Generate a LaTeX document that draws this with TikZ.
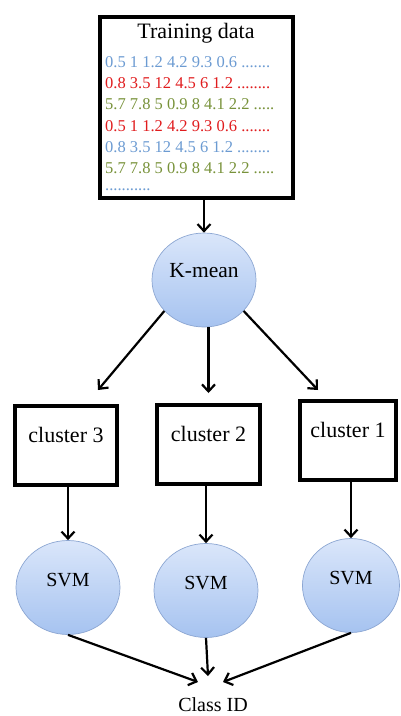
\documentclass[tikz,border=0pt]{standalone}
\usepackage{fontspec}
\setmainfont{Liberation Serif}
\usetikzlibrary{shapes.geometric,arrows.meta}

\definecolor{datablue}{RGB}{108,155,210}
\definecolor{datared}{RGB}{224,28,30}
\definecolor{datagreen}{RGB}{120,146,58}
\definecolor{blobtop}{RGB}{218,230,250}
\definecolor{blobbot}{RGB}{166,195,240}
\definecolor{blobedge}{RGB}{140,166,210}

\tikzset{
  box/.style={draw, line width=4pt, inner sep=0pt},
  cluster/.style={box, minimum height=79pt, font=\fontsize{22}{26}\selectfont,
    text height=14pt, text depth=20pt},
  blob/.style={ellipse, draw=blobedge, line width=0.7pt, top color=blobtop,
    bottom color=blobbot, inner sep=0pt},
  link/.style={-{Straight Barb[length=7pt,width=13pt]}, line width=2.2pt},
}

\begin{document}
\begin{tikzpicture}[x=1pt,y=-1pt]
  \useasboundingbox (0,0) rectangle (400,716);
  % training set box
  \node[box, minimum width=193pt, minimum height=181pt] (train) at (196.5,107.5) {};
  \node[font=\fontsize{22}{26}\selectfont] (title) at (196,33) {Training data};
  \foreach \i/\c/\row in {1/datablue/{0.5 1 1.2 4.2 9.3 0.6 .......},
                          2/datared/{0.8 3.5 12 4.5 6 1.2 ........},
                          3/datagreen/{5.7 7.8 5 0.9 8 4.1 2.2 .....},
                          4/datared/{0.5 1 1.2 4.2 9.3 0.6 .......},
                          5/datablue/{0.8 3.5 12 4.5 6 1.2 ........},
                          6/datagreen/{5.7 7.8 5 0.9 8 4.1 2.2 .....},
                          7/datablue/{...........}}{% one sample per line
    \node[anchor=west, inner sep=0pt, text=\c, font=\fontsize{16.5}{20}\selectfont]
      (row\i) at (105,{62+21.3*(\i-1)}) {\row};  }

  % clustering step
  \node[blob, minimum width=104pt, minimum height=94pt, font=\fontsize{21.5}{26}\selectfont,
    text height=14pt, text depth=20pt] (kmean) at (204,280) {K-mean};
  \node[cluster, minimum width=102pt] (c3) at (66,445.5) {cluster 3};
  \node[cluster, minimum width=103pt] (c2) at (208.5,444) {cluster 2};
  \node[cluster, minimum width=96pt] (c1) at (348,440.5) {cluster 1};
  \coordinate (to3) at (98,390);
  \coordinate (to2) at (208.5,393);
  \coordinate (to1) at (318,390);

  % one classifier per cluster
  \foreach \n/\x/\y/\w in {3/68/587.5/104, 2/206/590.5/104, 1/351/585.5/97}{
    \node[blob, minimum width=\w pt, minimum height=94pt, font=\fontsize{20}{24}\selectfont,
      text height=13pt, text depth=16pt] (svm\n) at (\x,\y) {SVM};  }
  \node[font=\fontsize{20}{24}\selectfont] (cid) at (213,705) {Class ID};
  \coordinate (inL) at (198,682);
  \coordinate (inM) at (208,676);
  \coordinate (inR) at (223,682);

  \draw[link] (train.south -| kmean) -- (kmean.north);
  \draw[link] (kmean.218) -- (to3);
  \draw[link] (kmean.south -| c2) -- (to2);
  \draw[link] (kmean.322) -- (to1);
  \foreach \n in {1,2,3}
    \draw[link] (c\n.south -| svm\n) -- (svm\n.north);
  \draw[link] (svm3.south) -- (inL);
  \draw[link] (svm2.south) -- (inM);
  \draw[link] (svm1.south) -- (inR);
\end{tikzpicture}
\end{document}
